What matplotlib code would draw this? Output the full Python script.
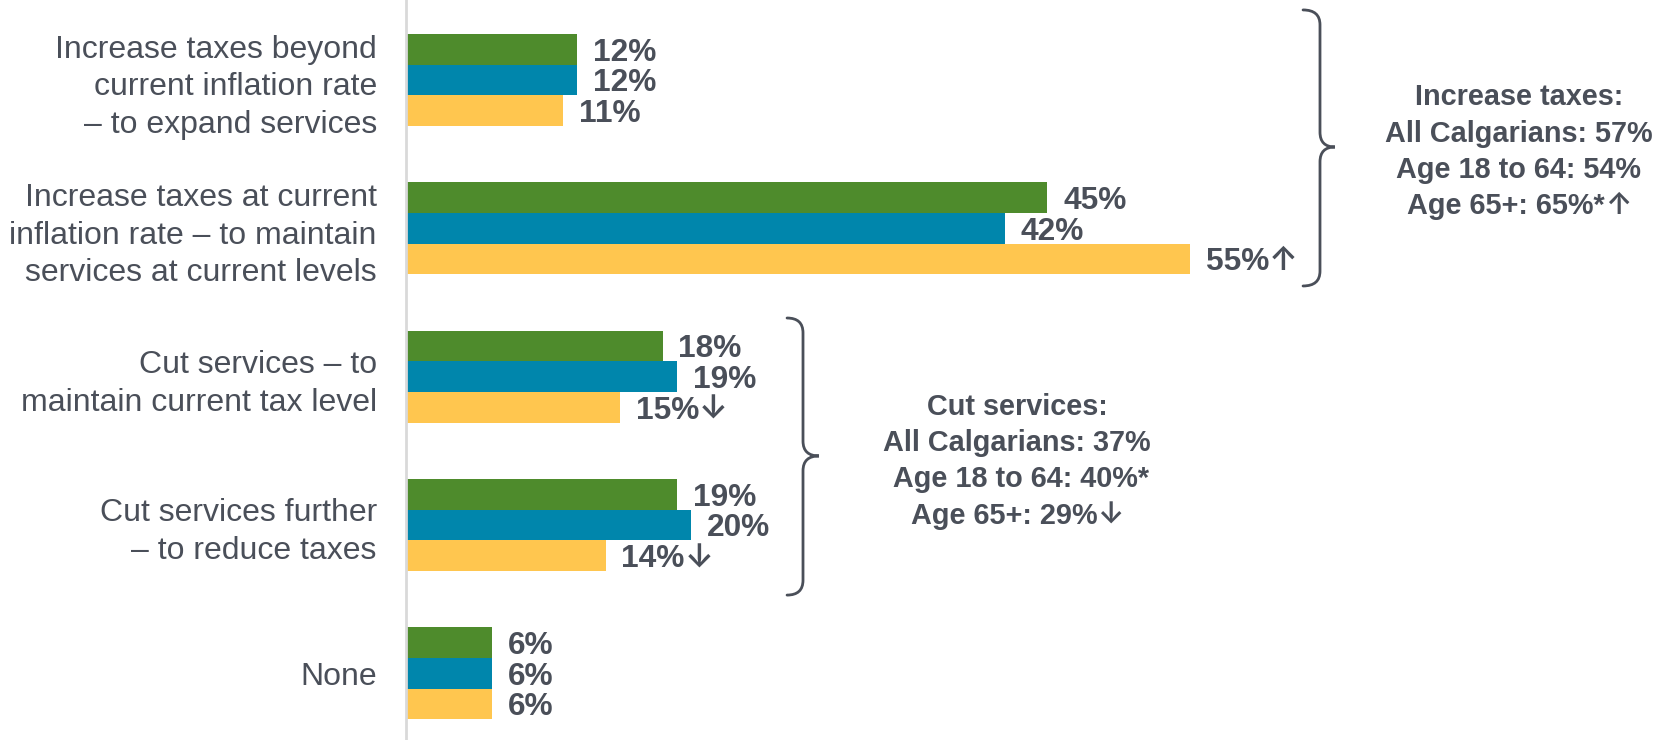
import matplotlib
matplotlib.use("Agg")
import matplotlib.pyplot as plt
from matplotlib.path import Path
from matplotlib.patches import PathPatch
from matplotlib.offsetbox import TextArea, HPacker, VPacker, AnnotationBbox
import numpy as np

plt.rcParams['font.family'] = ['Liberation Sans', 'DejaVu Sans']

categories = [
    "Increase taxes beyond\ncurrent inflation rate\n– to expand services",
    "Increase taxes at current\ninflation rate – to maintain\nservices at current levels",
    "Cut services – to\nmaintain current tax level",
    "Cut services further\n– to reduce taxes",
    "None",
]
series_names = ["All Calgarians", "Age 18 to 64", "Age 65+"]
all_calgarians = [12, 45, 18, 19, 6]
age_18_64 = [12, 42, 19, 20, 6]
age_65_plus = [11, 55, 15, 14, 6]
markers_all = ["", "", "", "", ""]
markers_18_64 = ["", "", "", "", ""]
markers_65_plus = ["", "↑", "↓", "↓", ""]
summary_increase_lines = ["Increase taxes:", "All Calgarians: 57%", "Age 18 to 64: 54%", "Age 65+: 65%*"]
summary_increase_marks = ["", "", "", "↑"]
summary_cut_lines = ["Cut services:", "All Calgarians: 37%", " Age 18 to 64: 40%*", "Age 65+: 29%"]
summary_cut_marks = ["", "", "", "↓"]

colors = ["#4E8B2C", "#0086AC", "#FFC64F"]
text_color = "#4A4F59"
arrow_font = ["Inter", "DejaVu Sans"]

fig = plt.figure(figsize=(16.7, 7.4), dpi=100)
ax = fig.add_axes([406 / 1670, 0, 1140 / 1670, 1])
ax.set_xlim(0, 80)
ax.set_ylim(4.45, -0.539)

series = [all_calgarians, age_18_64, age_65_plus]
markers = [markers_all, markers_18_64, markers_65_plus]
y = np.arange(len(categories))
h = 0.207
for j, (vals, mk, c) in enumerate(zip(series, markers, colors)):
    bars = ax.barh(y + (j - 1) * h, vals, height=h, color=c, label=series_names[j])
    for rect, v, m in zip(bars, vals, mk):
        yc = rect.get_y() + rect.get_height() / 2
        lab = ax.annotate(f"{v}%", xy=(rect.get_width(), yc), xytext=(11.5, 0),
                          textcoords='offset points', ha='left', va='center_baseline',
                          fontsize=22.8, fontweight='bold', color=text_color)
        if m:
            ax.annotate(m, xy=(1, 0), xycoords=lab, xytext=(0, 0),
                        textcoords='offset points', ha='left', va='bottom',
                        fontsize=23.5, fontweight='semibold', family=arrow_font,
                        color=text_color)

ax.set_yticks(y)
ax.set_yticklabels(categories, fontsize=23, color=text_color, linespacing=1.33,
                   ha='right', multialignment='right')
ax.tick_params(axis='y', length=0, pad=21)
ax.set_xticks([])
for s in ['top', 'right', 'bottom']:
    ax.spines[s].set_visible(False)
ax.spines['left'].set_color('#D9D9D9')
ax.spines['left'].set_linewidth(2)


def brace(ax, x_arm, x_spine, x_tip, y0, y1, ym, ry):
    verts = [
        (x_arm, y0), (x_spine, y0), (x_spine, y0 + ry),
        (x_spine, ym - ry),
        (x_spine, ym), (x_tip, ym),
        (x_spine, ym), (x_spine, ym + ry),
        (x_spine, y1 - ry),
        (x_spine, y1), (x_arm, y1),
    ]
    codes = [Path.MOVETO, Path.CURVE3, Path.CURVE3, Path.LINETO,
             Path.CURVE3, Path.CURVE3, Path.CURVE3, Path.CURVE3,
             Path.LINETO, Path.CURVE3, Path.CURVE3]
    ax.add_patch(PathPatch(Path(verts, codes), fill=False, edgecolor=text_color,
                           lw=2, clip_on=False, capstyle='round'))


def summary(ax, lines, marks, x, yv):
    rows = []
    for line, m in zip(lines, marks):
        kids = [TextArea(line, textprops=dict(fontsize=20.8, fontweight='bold',
                                              color=text_color))]
        if m:
            kids.append(TextArea(m, textprops=dict(fontsize=21.5, fontweight='semibold',
                                                   family=arrow_font, color=text_color)))
        rows.append(HPacker(children=kids, pad=0, sep=0, align='baseline'))
    box = VPacker(children=rows, pad=0, sep=5.9, align='center')
    ab = AnnotationBbox(box, (x, yv), xycoords='data', frameon=False,
                        box_alignment=(0.5, 0.5), annotation_clip=False)
    ax.add_artist(ab)


brace(ax, 62.95, 64.14, 65.19, -0.472, 1.389, 0.452, 0.1)
brace(ax, 26.74, 27.86, 28.98, 1.605, 3.473, 2.535, 0.1)

summary(ax, summary_increase_lines, summary_increase_marks, 78.1, 0.484)
summary(ax, summary_cut_lines, summary_cut_marks, 42.88, 2.571)

fig.savefig("out.png", dpi=100)
